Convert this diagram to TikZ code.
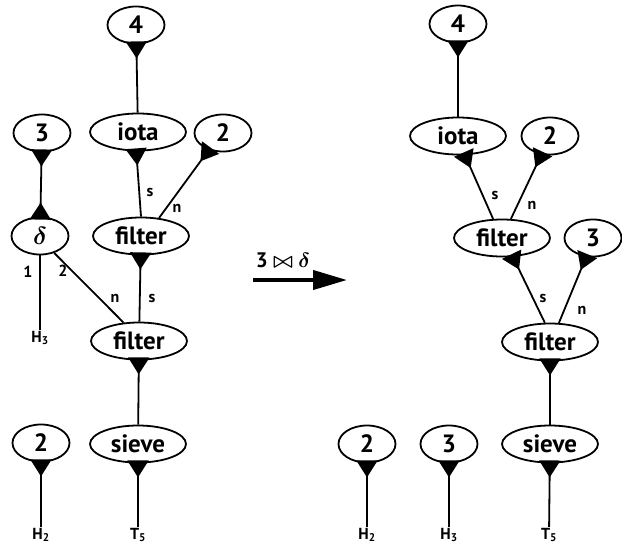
\documentclass[tikz,border=0pt]{standalone}
\usepackage{amsmath, amssymb}
\usepackage{bm}
\usepackage{fontspec}
\setmainfont{PT Sans}
\usetikzlibrary{arrows.meta, positioning, shapes.geometric}

\begin{document}
\begin{tikzpicture}[
    x=1pt, y=-1pt,
    agent/.style={ellipse, draw, line width=1.8pt, fill=white, inner sep=0pt,
      minimum width=57pt, minimum height=37pt, font=\fontsize{25}{28}\selectfont\bfseries},
    wagent/.style={agent, minimum width=96pt},
    lbl/.style={inner sep=1pt, font=\fontsize{16}{18}\selectfont\bfseries},
    wire/.style={line width=1.8pt},
    prin/.style={wire, {Triangle[reversed, length=17pt, width=21pt]}-, shorten <=-3pt},
    pair/.style={wire, {Triangle[reversed, length=17pt, width=21pt]}-{Triangle[reversed, length=17pt, width=21pt]},
      shorten <=-3pt, shorten >=-3pt},
    rule/.style={-{Triangle[length=34pt, width=19pt]}, line width=4pt}
  ]
    \useasboundingbox (0,0) rectangle (622,550);

    % left net
    \node[agent] (fourL) at (136,25) {4};
    \node[wagent] (iotaL) at (138,132) {iota};
    \node[agent] (threeL) at (42,133) {3};
    \node[agent] (twoL) at (223,133) {2};
    \node[agent] (deltaL) at (40,236) {$\bm{\delta}$};
    \node[wagent] (filtAL) at (141,236) {filter};
    \node[wagent] (filtBL) at (139,341) {filter};
    \node[agent] (twoBL) at (41,443) {2};
    \node[wagent] (sieveL) at (138,444) {sieve};
    \node[lbl] (hthreeL) at (40,338) {H\textsubscript{3}};
    \node[lbl] (htwoL) at (41,535) {H\textsubscript{2}};
    \node[lbl] (tfiveL) at (138,535) {T\textsubscript{5}};

    \draw[prin] (fourL) -- (iotaL);
    \draw[pair] (threeL) -- (deltaL);
    \draw[prin] (iotaL.-95) -- (filtAL.north);
    \draw[prin] (twoL.-130) -- (filtAL.45);
    \draw[wire] (deltaL.south) -- (hthreeL);
    \draw[wire] (deltaL.-50) -- (filtBL.130);
    \draw[prin] (filtAL) -- (filtBL);
    \draw[prin] (filtBL) -- (sieveL);
    \draw[prin] (twoBL) -- (htwoL);
    \draw[prin] (sieveL) -- (tfiveL);

    \node[lbl] (sAL) at (150,192) {s};
    \node[lbl] (nAL) at (177,208) {n};
    \node[lbl] (oneL) at (28,272) {1};
    \node[lbl] (twoPL) at (63,271) {2};
    \node[lbl] (nBL) at (115,298) {n};
    \node[lbl] (sBL) at (152,298) {s};

    % rewrite step
    \coordinate (ruleL) at (253,280);
    \coordinate (ruleR) at (347,280);
    \draw[rule] (ruleL) -- (ruleR);
    \node[font=\fontsize{21}{24}\selectfont\bfseries] (ruleLbl) at (283,260) {3 $\bm{\bowtie}$ $\bm{\delta}$};

    % right net
    \node[agent] (fourR) at (458,24) {4};
    \node[wagent] (iotaR) at (458,136) {iota};
    \node[agent] (twoR) at (550,136) {2};
    \node[wagent] (filtAR) at (502,238) {filter};
    \node[agent] (threeR) at (593,238) {3};
    \node[wagent] (filtBR) at (550,342) {filter};
    \node[agent] (twoBR) at (367,444) {2};
    \node[agent] (threeBR) at (449,444) {3};
    \node[wagent] (sieveR) at (550,444) {sieve};
    \node[lbl] (htwoR) at (367,535) {H\textsubscript{2}};
    \node[lbl] (hthreeR) at (449,535) {H\textsubscript{3}};
    \node[lbl] (tfiveR) at (549,535) {T\textsubscript{5}};

    \draw[prin] (fourR) -- (iotaR);
    \draw[prin] (iotaR.-70) -- (filtAR.115);
    \draw[prin] (twoR.-115) -- (filtAR.65);
    \draw[prin] (filtAR.-60) -- (filtBR.105);
    \draw[prin] (threeR.-110) -- (filtBR.65);
    \draw[prin] (filtBR) -- (sieveR);
    \draw[prin] (twoBR) -- (htwoR);
    \draw[prin] (threeBR) -- (hthreeR);
    \draw[prin] (sieveR) -- (tfiveR);

    \node[lbl] (sAR) at (495,195) {s};
    \node[lbl] (nAR) at (532,205) {n};
    \node[lbl] (sBR) at (543,298) {s};
    \node[lbl] (nBR) at (582,310) {n};
  \end{tikzpicture}
\end{document}
